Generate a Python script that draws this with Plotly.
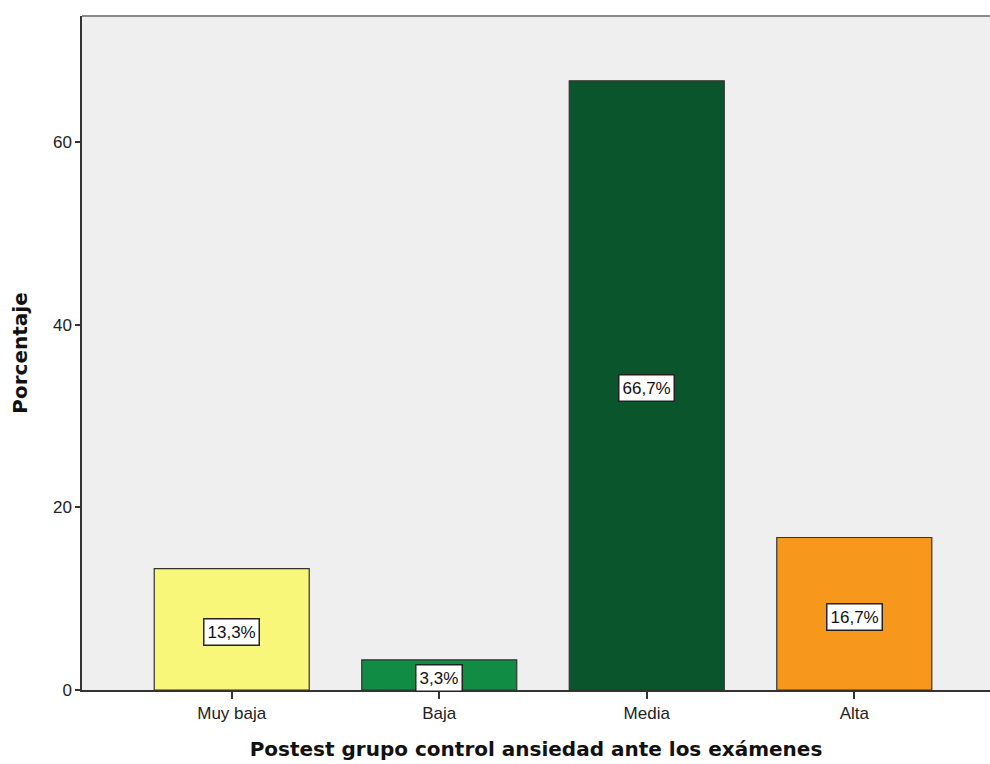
import plotly.graph_objects as go

# Frequency percentages per anxiety level
categories = ["Muy baja", "Baja", "Media", "Alta"]
percentages = [13.3, 3.3, 66.7, 16.7]
value_labels = ["13,3%", "3,3%", "66,7%", "16,7%"]
bar_colors = ["#F9F77A", "#108C44", "#0B552D", "#F7981D"]
y_ticks = [0, 20, 40, 60]

x_pos = list(range(len(categories)))

fig = go.Figure()
fig.add_trace(go.Bar(
    x=x_pos,
    y=percentages,
    width=0.747,
    marker=dict(color=bar_colors, line=dict(color="#333333", width=1.2)),
    hoverinfo="skip",
))

for xp, val, lab in zip(x_pos, percentages, value_labels):
    fig.add_annotation(
        x=xp, y=val / 2, text=lab, showarrow=False,
        yshift=-3,
        font=dict(family="Liberation Sans, Arial", size=17, color="#111111"),
        bgcolor="white", bordercolor="#222222", borderwidth=1.5, borderpad=3,
    )

# top frame line of the plot area
fig.add_shape(type="line", xref="paper", yref="paper", x0=0, x1=1, y0=1, y1=1,
              line=dict(color="#888888", width=2))

fig.update_layout(
    width=990, height=764,
    margin=dict(l=82, r=0, t=16, b=74),
    paper_bgcolor="white",
    plot_bgcolor="#EFEFEF",
    showlegend=False,
    font=dict(family="Liberation Sans, Arial", size=17, color="#222222"),
)
fig.update_xaxes(
    range=[-0.7215, 3.654],
    tickmode="array", tickvals=x_pos, ticktext=categories,
    ticks="outside", ticklen=7, tickwidth=1.5, tickcolor="#333333",
    showline=True, linecolor="#333333", linewidth=1.5,
    showgrid=False, zeroline=False,
    tickfont=dict(size=17, color="#222222"),
    title=dict(text="<b>Postest grupo control ansiedad ante los exámenes</b>",
               font=dict(family="DejaVu Sans", size=20, color="#111111"),
               standoff=20),
)
fig.update_yaxes(
    range=[0, 73.8],
    tickmode="array", tickvals=y_ticks,
    ticks="outside", ticklen=5, tickwidth=1.5, tickcolor="#333333",
    showline=True, linecolor="#333333", linewidth=1.5,
    showgrid=False, zeroline=False,
    tickfont=dict(size=17, color="#222222"),
    title=dict(text="<b>Porcentaje</b>",
               font=dict(family="DejaVu Sans", size=20, color="#111111"),
               standoff=20),
)

fig.write_html("out.html")
